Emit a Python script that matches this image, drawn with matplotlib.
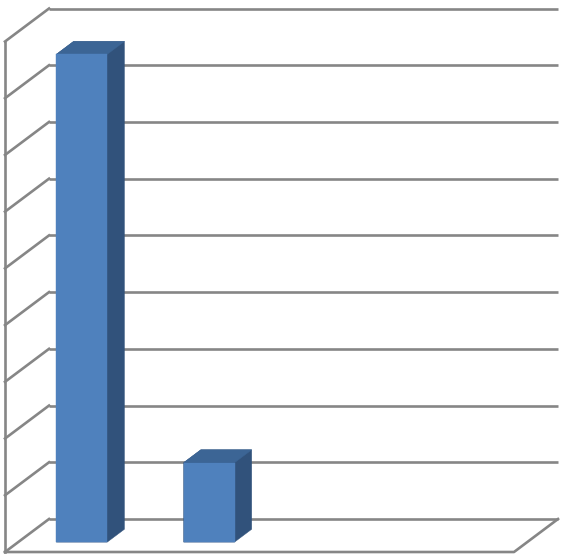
import matplotlib
matplotlib.use("Agg")
import matplotlib.pyplot as plt
from matplotlib.patches import Polygon

# data (no labels shown on the chart)
categories = ["A", "B", "C", "D"]
values = [86, 14, None, None]
gridlines = [0, 10, 20, 30, 40, 50, 60, 70, 80, 90]

# oblique 3D look: depth shift in data units
DX, DY = 0.346, 5.82
D0, D1 = 0.30, 0.69   # bar front / back depth
HALF = 0.2            # half bar width in category units

front_c = "#4F81BD"
side_c = "#31527B"
top_c = "#3C6595"
grid_c = "#868686"


def proj(u, v, d):
    return (u + d * DX, v + d * DY)


fig = plt.figure(figsize=(5.66, 5.57), dpi=100)
ax = fig.add_axes([0, 0, 1, 1])
ax.set_xlim(-0.0393, 4.4086)
ax.set_ylim(-0.88, 97.32)
ax.axis("off")

n = len(categories)
lw = 1.9

# back wall + left wall gridlines
for g in gridlines:
    x0, y0 = proj(0, g, 1)
    x1, y1 = proj(n, g, 1)
    ax.plot([x0, x1], [y0, y1], color=grid_c, lw=lw, solid_capstyle="butt", zorder=1)
    xf, yf = proj(0, g, 0)
    ax.plot([xf, x0], [yf, y0], color=grid_c, lw=lw, zorder=1)

# left wall front edge
p0 = proj(0, 0, 0)
p1 = proj(0, gridlines[-1], 0)
ax.plot([p0[0], p1[0]], [p0[1], p1[1]], color=grid_c, lw=lw, zorder=1)

# floor front and right edge
f0 = proj(0, 0, 0)
f1 = proj(n, 0, 0)
f2 = proj(n, 0, 1)
ax.plot([f0[0], f1[0], f2[0]], [f0[1], f1[1], f2[1]], color=grid_c, lw=lw, zorder=1)

# bars
for i, v in enumerate(values):
    if v is None:
        continue
    l, r = i + 0.5 - HALF, i + 0.5 + HALF
    outline = [proj(l, 0, D0), proj(r, 0, D0), proj(r, 0, D1),
               proj(r, v, D1), proj(l, v, D1), proj(l, v, D0)]
    front = [proj(l, 0, D0), proj(r, 0, D0), proj(r, v, D0), proj(l, v, D0)]
    top = [proj(l, v, D0), proj(r, v, D0), proj(r, v, D1), proj(l, v, D1)]
    ax.add_patch(Polygon(outline, closed=True, facecolor=side_c, edgecolor=side_c,
                         lw=0.3, zorder=3))
    for pts, c in [(top, top_c), (front, front_c)]:
        ax.add_patch(Polygon(pts, closed=True, facecolor=c, edgecolor=c,
                             lw=0.3, zorder=4))

fig.savefig("out.png", dpi=100)
